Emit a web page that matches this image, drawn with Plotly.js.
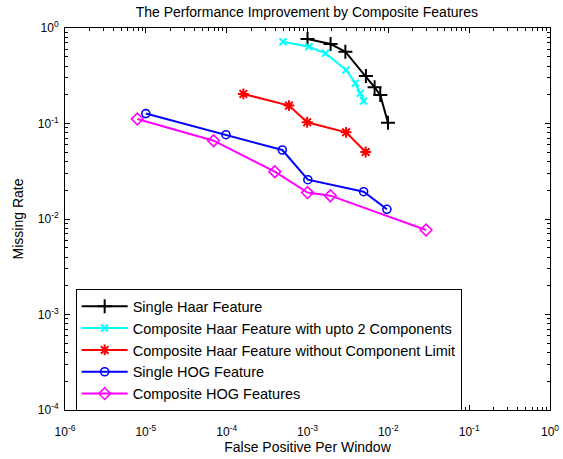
<!DOCTYPE html>
<html>
<head>
<meta charset="utf-8">
<script src="https://cdn.plot.ly/plotly-3.0.1.min.js"></script>
<style>html,body{margin:0;padding:0;background:#fff;}#chart{width:563px;height:459px;}</style>
</head>
<body>
<div id="chart"></div>
<script>
// Series data
const seriesNames = [
  "Single Haar Feature",
  "Composite Haar Feature with upto 2 Components",
  "Composite Haar Feature without Component Limit",
  "Single HOG Feature",
  "Composite HOG Features"
];
const haarX = [1.0e-3, 1.93e-3, 2.94e-3, 5.28e-3, 6.76e-3, 7.94e-3, 9.9e-3];
const haarY = [0.767, 0.68, 0.565, 0.314, 0.239, 0.199, 0.102];
const comp2X = [4.98e-4, 1.04e-3, 1.67e-3, 3.0e-3, 3.91e-3, 4.51e-3, 4.95e-3];
const comp2Y = [0.719, 0.637, 0.543, 0.363, 0.264, 0.207, 0.172];
const compNX = [1.61e-4, 5.9e-4, 9.9e-4, 3.0e-3, 5.24e-3];
const compNY = [0.204, 0.154, 0.103, 0.0809, 0.0503];
const hogX = [1.0e-5, 9.8e-5, 4.88e-4, 1.01e-3, 4.95e-3, 9.6e-3];
const hogY = [0.127, 0.0763, 0.0528, 0.0258, 0.0193, 0.01264];
const compHogX = [7.85e-6, 6.9e-5, 3.94e-4, 1.0e-3, 1.92e-3, 0.0293];
const compHogY = [0.1115, 0.066, 0.0313, 0.0189, 0.01755, 0.00767];

const xTickVals = [1e-6, 1e-5, 1e-4, 1e-3, 1e-2, 1e-1, 1];
const xTickText = ["10<sup>-6</sup>", "10<sup>-5</sup>", "10<sup>-4</sup>", "10<sup>-3</sup>", "10<sup>-2</sup>", "10<sup>-1</sup>", "10<sup>0</sup>"];
const yTickVals = [1e-4, 1e-3, 1e-2, 1e-1, 1];
const yTickText = ["10<sup>-4</sup>", "10<sup>-3</sup>", "10<sup>-2</sup>", "10<sup>-1</sup>", "10<sup>0</sup>"];

// minor tick positions (2..9 within each decade)
function minorTicks(lo, hi) {
  const out = [];
  for (let e = lo; e < hi; e++) for (let m = 2; m <= 9; m++) out.push(m * Math.pow(10, e));
  return out;
}
const xMinor = minorTicks(-6, 0);
const yMinor = minorTicks(-4, 0);

const colors = ["#000000", "#00ffff", "#ff0000", "#0000ff", "#ff00ff"];
const symbols = ["cross-thin-open", "x-thin-open", "asterisk-open", "circle-open", "diamond-open"];
const sizes = [10, 7, 9, 8, 9];
const xs = [haarX, comp2X, compNX, hogX, compHogX];
const ys = [haarY, comp2Y, compNY, hogY, compHogY];

const traces = xs.map((x, i) => ({
  x: x, y: ys[i], name: seriesNames[i], type: "scatter", mode: "lines+markers",
  line: {color: colors[i], width: 2},
  marker: {symbol: symbols[i], color: colors[i], size: sizes[i],
           line: {color: colors[i], width: (i < 3 ? 2 : 1.6)}}
}));
// empty helper trace so that the minor-tick axes are drawn
traces.push({x: [], y: [], xaxis: "x2", yaxis: "y2", type: "scatter", mode: "markers",
             showlegend: false, hoverinfo: "skip"});

const fam = "Liberation Sans, Arial, sans-serif";
const font = {family: fam, size: 14, color: "#000"};
const legendFont = {family: fam, size: 14.5, color: "#000"};
const tickFont = {family: fam, size: 12, color: "#000"};
const axisCommon = {
  type: "log", showgrid: false, zeroline: false, showline: true, linecolor: "#000", linewidth: 1,
  mirror: "allticks", ticks: "inside", ticklen: 5, tickcolor: "#000", tickwidth: 1,
  tickfont: tickFont
};
const minorCommon = {
  type: "log", showgrid: false, zeroline: false, showline: false,
  mirror: "allticks", ticks: "inside", ticklen: 3, tickcolor: "#000", tickwidth: 1,
  showticklabels: false, tickmode: "array"
};

const layout = {
  width: 563, height: 459,
  margin: {l: 65, r: 13, t: 28, b: 49},
  paper_bgcolor: "#fff", plot_bgcolor: "#fff",
  font: font,
  title: {text: "The Performance Improvement by Composite Features", font: font,
          x: 0.545, xanchor: "center", y: 0.974, yanchor: "middle"},
  xaxis: Object.assign({}, axisCommon, {range: [-6, 0], tickvals: xTickVals, ticktext: xTickText,
          ticklabelstandoff: 11,
          title: {text: "False Positive Per Window", font: font, standoff: 0}}),
  yaxis: Object.assign({}, axisCommon, {range: [-4, 0], tickvals: yTickVals, ticktext: yTickText,
          ticklabelstandoff: 3,
          title: {text: "Missing Rate", font: font, standoff: 10}}),
  xaxis2: Object.assign({}, minorCommon, {overlaying: "x", anchor: "y2", side: "bottom",
          range: [-6, 0], tickvals: xMinor}),
  yaxis2: Object.assign({}, minorCommon, {overlaying: "y", anchor: "x2", side: "left",
          range: [-4, 0], tickvals: yMinor}),
  showlegend: true,
  legend: {x: 0.022, y: 0.316, xanchor: "left", yanchor: "top", bgcolor: "#fff",
           bordercolor: "#000", borderwidth: 1, font: legendFont, itemwidth: 46, tracegroupgap: 0}
};

Plotly.newPlot("chart", traces, layout, {displayModeBar: false, staticPlot: true});
</script>
</body>
</html>
